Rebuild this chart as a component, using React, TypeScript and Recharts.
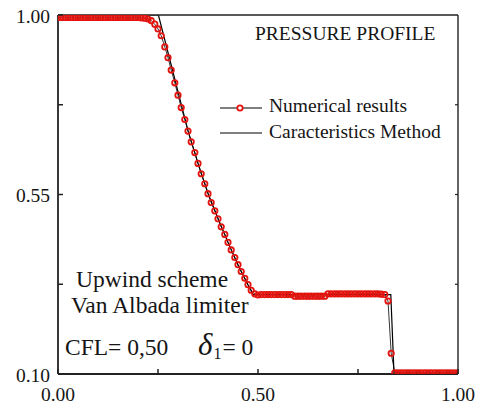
import { LineChart, Line, XAxis, YAxis, Legend } from "recharts";

// numerical grid (cell centres)
const xGrid = [
  0, 0.008, 0.017, 0.025, 0.033, 0.042, 0.05, 0.058, 0.067, 0.075, 0.083, 0.092,
  0.1, 0.108, 0.117, 0.125, 0.133, 0.142, 0.15, 0.158, 0.167, 0.175, 0.183, 0.192,
  0.2, 0.208, 0.217, 0.225, 0.233, 0.242, 0.25, 0.258, 0.267, 0.275, 0.283, 0.292,
  0.3, 0.308, 0.317, 0.325, 0.333, 0.342, 0.35, 0.358, 0.367, 0.375, 0.383, 0.392,
  0.4, 0.408, 0.417, 0.425, 0.433, 0.442, 0.45, 0.458, 0.467, 0.475, 0.483, 0.492,
  0.5, 0.508, 0.517, 0.525, 0.533, 0.542, 0.55, 0.558, 0.567, 0.575, 0.583, 0.592,
  0.6, 0.608, 0.617, 0.625, 0.633, 0.642, 0.65, 0.658, 0.667, 0.675, 0.683, 0.692,
  0.7, 0.708, 0.717, 0.725, 0.733, 0.742, 0.75, 0.758, 0.767, 0.775, 0.783, 0.792,
  0.8, 0.808, 0.817, 0.825, 0.833, 0.842, 0.85, 0.858, 0.867, 0.875, 0.883, 0.892,
  0.9, 0.908, 0.917, 0.925, 0.933, 0.942, 0.95, 0.958, 0.967, 0.975, 0.983, 0.992,
  1.0,
];

const pressureNum = [
  0.994, 0.994, 0.994, 0.994, 0.994, 0.994, 0.994, 0.994, 0.994, 0.994, 0.994, 0.994,
  0.994, 0.994, 0.994, 0.994, 0.994, 0.994, 0.994, 0.994, 0.994, 0.994, 0.994, 0.994,
  0.994, 0.993, 0.992, 0.99, 0.986, 0.977, 0.965, 0.948, 0.92, 0.893, 0.862, 0.83,
  0.799, 0.768, 0.738, 0.709, 0.682, 0.655, 0.628, 0.602, 0.577, 0.552, 0.53, 0.509,
  0.489, 0.469, 0.45, 0.43, 0.411, 0.392, 0.374, 0.357, 0.34, 0.324, 0.31, 0.301,
  0.298, 0.299, 0.299, 0.299, 0.299, 0.299, 0.299, 0.299, 0.299, 0.299, 0.299, 0.295,
  0.295, 0.295, 0.295, 0.295, 0.295, 0.295, 0.295, 0.295, 0.295, 0.301, 0.301, 0.301,
  0.301, 0.301, 0.301, 0.301, 0.301, 0.301, 0.301, 0.301, 0.301, 0.301, 0.301, 0.301,
  0.301, 0.3, 0.299, 0.283, 0.152, 0.103, 0.103, 0.103, 0.103, 0.103, 0.103, 0.103,
  0.103, 0.103, 0.103, 0.103, 0.103, 0.103, 0.103, 0.103, 0.103, 0.103, 0.103, 0.103,
  0.103,
];

// characteristics method (exact) solution
const exactX = [0, 0.251, 0.275, 0.3, 0.325, 0.35, 0.375, 0.4, 0.425, 0.45, 0.475, 0.488, 0.832, 0.84, 1.0];
const exactP = [1.0, 1.0, 0.906, 0.808, 0.71, 0.628, 0.553, 0.49, 0.43, 0.373, 0.323, 0.299, 0.299, 0.102, 0.102];

const xTicks = [0, 0.25, 0.5, 0.75, 1.0];
const xLabels = ["0.00", "", "0.50", "", "1.00"];
const yTicks = [0.1, 0.325, 0.55, 0.775, 1.0];
const yLabels = ["0.10", "", "0.55", "", "1.00"];

const numData = xGrid.map((x, i) => ({ x, p: pressureNum[i] }));
const exactData = exactX.map((x, i) => ({ x, p: exactP[i] }));

const FONT = "Liberation Serif";
const RED = "#e3140f";
const INK = "#151515";

const labelOf = (v: number, ticks: number[], labels: string[]) => {
  const i = ticks.findIndex((t) => Math.abs(t - v) < 1e-6);
  return i >= 0 ? labels[i] : "";
};

const BottomTick = ({ x, y, payload }: any) => (
  <g>
    <line x1={x} x2={x} y1={y} y2={y - 5} stroke="#222" strokeWidth={1.5} />
    <text x={x} y={y + 20} textAnchor="middle" dominantBaseline="central" fontFamily={FONT} fontSize={19.5} fill={INK}>
      {labelOf(payload.value, xTicks, xLabels)}
    </text>
  </g>
);

const LeftTick = ({ x, y, payload }: any) => (
  <g>
    <line x1={x} x2={x + 5} y1={y} y2={y} stroke="#222" strokeWidth={1.5} />
    <text x={x - 8} y={y + 1} textAnchor="end" dominantBaseline="central" fontFamily={FONT} fontSize={19.5} fill={INK}>
      {labelOf(payload.value, yTicks, yLabels)}
    </text>
  </g>
);

const TopTick = ({ x, y }: any) => (
  <line x1={x} x2={x} y1={y} y2={y + 3} stroke="#222" strokeWidth={1.2} />
);

const RightTick = ({ x, y }: any) => (
  <line x1={x} x2={x - 3} y1={y} y2={y} stroke="#222" strokeWidth={1.2} />
);

const renderLegend = () => (
  <svg width={250} height={50} style={{ display: "block" }}>
    <line x1={5} x2={47} y1={13} y2={13} stroke="#000" strokeWidth={1.2} />
    <circle cx={25} cy={13} r={2.7} stroke={RED} strokeWidth={1.8} fill="#fff" />
    <text x={54} y={17} fontFamily={FONT} fontSize={19.5} fill={INK}>
      Numerical results
    </text>
    <line x1={5} x2={47} y1={38} y2={38} stroke="#000" strokeWidth={1.2} />
    <text x={54} y={43} fontFamily={FONT} fontSize={19.5} fill={INK}>
      Caracteristics Method
    </text>
  </svg>
);

export default function App() {
  return (
    <div style={{ position: "absolute", left: 0, top: 0, width: 480, height: 405, background: "#fff" }}>
      <LineChart width={480} height={405} margin={{ top: 0, right: 0, bottom: 1, left: 0 }}>
        <XAxis
          xAxisId="b"
          type="number"
          dataKey="x"
          domain={[0, 1]}
          ticks={xTicks}
          allowDataOverflow
          height={30}
          tickSize={0}
          tickMargin={0}
          tickLine={false}
          tick={BottomTick}
          axisLine={{ stroke: "#222", strokeWidth: 1.8 }}
        />
        <XAxis
          xAxisId="t"
          orientation="top"
          type="number"
          domain={[0, 1]}
          ticks={[0.25, 0.5, 0.75]}
          allowDataOverflow
          height={15}
          tickSize={0}
          tickMargin={0}
          tickLine={false}
          tick={TopTick}
          axisLine={{ stroke: "#222", strokeWidth: 1.4 }}
        />
        <YAxis
          yAxisId="l"
          type="number"
          domain={[0.1, 1]}
          ticks={yTicks}
          allowDataOverflow
          width={58}
          tickSize={0}
          tickMargin={0}
          tickLine={false}
          tick={LeftTick}
          axisLine={{ stroke: "#222", strokeWidth: 1.8 }}
        />
        <YAxis
          yAxisId="r"
          orientation="right"
          type="number"
          domain={[0.1, 1]}
          ticks={[0.325, 0.55, 0.775]}
          allowDataOverflow
          width={22}
          tickSize={0}
          tickMargin={0}
          tickLine={false}
          tick={RightTick}
          axisLine={{ stroke: "#222", strokeWidth: 1.4 }}
        />
        <Line
          xAxisId="b"
          yAxisId="l"
          data={numData}
          dataKey="p"
          name="Numerical results"
          stroke="#000"
          strokeWidth={0.8}
          dot={{ r: 2.7, stroke: RED, strokeWidth: 1.8, fill: "none" }}
          isAnimationActive={false}
        />
        <Line
          xAxisId="b"
          yAxisId="l"
          data={exactData}
          dataKey="p"
          name="Caracteristics Method"
          stroke="#000"
          strokeWidth={1.2}
          dot={false}
          isAnimationActive={false}
        />
        <Legend
          layout="horizontal"
          verticalAlign="middle"
          align="center"
          content={renderLegend}
          wrapperStyle={{ position: "absolute", left: 215, top: 95, width: 250, height: 50 }}
        />
      </LineChart>
      <svg
        width={480}
        height={405}
        style={{ position: "absolute", left: 0, top: 0, pointerEvents: "none" }}
        fontFamily={FONT}
        fill={INK}
      >
        <text x={255} y={40} fontSize={19.5}>PRESSURE PROFILE</text>
        <text x={76} y={287} fontSize={23.5}>Upwind scheme</text>
        <text x={71} y={313} fontSize={23.5}>Van Albada limiter</text>
        <text x={65} y={355} fontSize={23.5}>CFL= 0,50</text>
        <text x={198} y={355} fontSize={23.5}>
          <tspan fontSize={31} fontStyle="italic">δ</tspan>
          <tspan dx={1} dy={4} fontSize={16}>1</tspan>
          <tspan dx={1} dy={-4}>= 0</tspan>
        </text>
      </svg>
    </div>
  );
}
